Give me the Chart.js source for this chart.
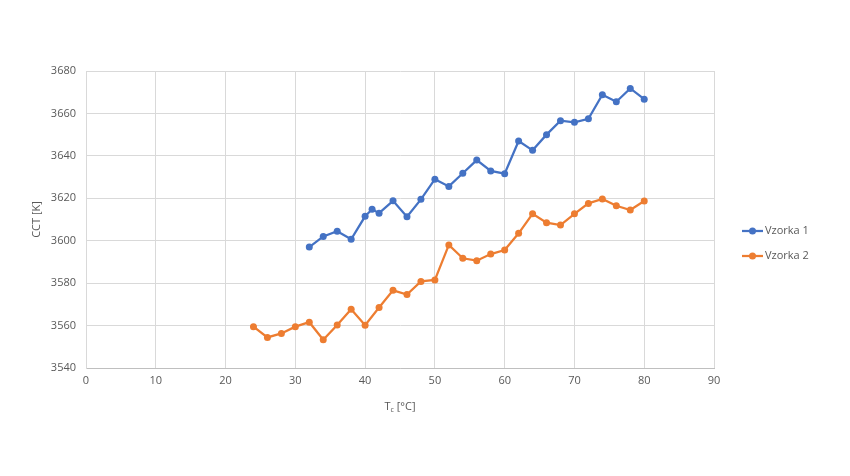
<!DOCTYPE html>
<html>
<head>
<meta charset="utf-8">
<script src="https://cdn.jsdelivr.net/npm/chart.js@4"></script>
<style>
  html, body { margin: 0; padding: 0; background: #fff; }
  #wrap { width: 850px; height: 476px; position: relative; }
</style>
</head>
<body>
<div id="wrap"><canvas id="chart"></canvas></div>
<script>
// data
const xVzorka1 = [32, 34, 36, 38, 40, 41, 42, 44, 46, 48, 50, 52, 54, 56, 58, 60, 62, 64, 66, 68, 70, 72, 74, 76, 78, 80];
const yVzorka1 = [3597, 3602, 3604.5, 3600.7, 3611.5, 3614.8, 3613, 3618.8, 3611.3, 3619.5, 3629, 3625.6, 3631.8, 3638, 3632.9, 3631.6, 3647, 3642.6, 3650, 3656.6, 3655.8, 3657.5, 3668.8, 3665.5, 3671.8, 3666.7];
const xVzorka2 = [24, 26, 28, 30, 32, 34, 36, 38, 40, 42, 44, 46, 48, 50, 52, 54, 56, 58, 60, 62, 64, 66, 68, 70, 72, 74, 76, 78, 80];
const yVzorka2 = [3559.5, 3554.4, 3556.3, 3559.5, 3561.6, 3553.3, 3560.3, 3567.7, 3560.2, 3568.5, 3576.6, 3574.6, 3580.8, 3581.5, 3598, 3591.7, 3590.6, 3593.7, 3595.6, 3603.5, 3612.7, 3608.5, 3607.4, 3612.7, 3617.6, 3619.7, 3616.5, 3614.5, 3618.7];
const seriesNames = ['Vzorka 1', 'Vzorka 2'];
const seriesColors = ['#4472C4', '#ED7D31'];

const textColor = '#595959';
const fontFamily = '"Open Sans", "DejaVu Sans", sans-serif';

function toPoints(xs, ys) {
  return xs.map((x, i) => ({ x: x, y: ys[i] }));
}

// axis titles + legend drawn by hand (subscript in T_c, excel style legend)
const extrasPlugin = {
  id: 'extras',
  afterDraw(chart) {
    const ctx = chart.ctx;
    const area = chart.chartArea;
    ctx.save();
    ctx.fillStyle = textColor;
    ctx.textBaseline = 'middle';

    // y title
    ctx.save();
    ctx.translate(37, (area.top + area.bottom) / 2);
    ctx.rotate(-Math.PI / 2);
    ctx.font = '11px ' + fontFamily;
    ctx.textAlign = 'center';
    ctx.fillText('CCT [K]', 0, 0);
    ctx.restore();

    // x title T_c [°C]
    ctx.font = '11px ' + fontFamily;
    const tW = ctx.measureText('T').width;
    ctx.font = '7px ' + fontFamily;
    const cW = ctx.measureText('c').width;
    ctx.font = '11px ' + fontFamily;
    const restW = ctx.measureText(' [°C]').width;
    const total = tW + cW + restW;
    let tx = (area.left + area.right) / 2 - total / 2;
    const ty = 407;
    ctx.textAlign = 'left';
    ctx.fillText('T', tx, ty);
    ctx.font = '7px ' + fontFamily;
    ctx.fillText('c', tx + tW, ty + 3);
    ctx.font = '11px ' + fontFamily;
    ctx.fillText(' [°C]', tx + tW + cW, ty);

    // legend
    const legendY = [231, 256];
    seriesNames.forEach((name, i) => {
      const y = legendY[i];
      ctx.strokeStyle = seriesColors[i];
      ctx.lineWidth = 2.25;
      ctx.beginPath();
      ctx.moveTo(742, y);
      ctx.lineTo(763, y);
      ctx.stroke();
      ctx.fillStyle = seriesColors[i];
      ctx.beginPath();
      ctx.arc(752.5, y, 3.5, 0, Math.PI * 2);
      ctx.fill();
      ctx.fillStyle = textColor;
      ctx.font = '11px ' + fontFamily;
      ctx.fillText(name, 765, y);
    });
    ctx.restore();
  }
};

const chart = new Chart(document.getElementById('chart'), {
  type: 'scatter',
  data: {
    datasets: [
      {
        label: seriesNames[0],
        data: toPoints(xVzorka1, yVzorka1),
        showLine: true,
        borderColor: seriesColors[0],
        backgroundColor: seriesColors[0],
        borderWidth: 2.25,
        pointRadius: 3.5,
        pointBorderWidth: 0,
        tension: 0
      },
      {
        label: seriesNames[1],
        data: toPoints(xVzorka2, yVzorka2),
        showLine: true,
        borderColor: seriesColors[1],
        backgroundColor: seriesColors[1],
        borderWidth: 2.25,
        pointRadius: 3.5,
        pointBorderWidth: 0,
        tension: 0
      }
    ]
  },
  options: {
    responsive: true,
    maintainAspectRatio: false,
    animation: false,
    layout: { padding: { top: 71, right: 136, bottom: 0, left: 0 } },
    plugins: {
      legend: { display: false },
      tooltip: { enabled: false }
    },
    scales: {
      x: {
        type: 'linear',
        min: 0,
        max: 90,
        ticks: { stepSize: 10, color: textColor, font: { size: 11, family: fontFamily }, padding: 6 },
        grid: { color: '#d9d9d9', drawTicks: false },
        border: { color: '#bfbfbf' },
        afterFit(scale) { scale.height = 108; }
      },
      y: {
        min: 3540,
        max: 3680,
        ticks: {
          stepSize: 20,
          color: textColor,
          font: { size: 11, family: fontFamily },
          padding: 10,
          callback: (v) => String(v)
        },
        grid: { color: '#d9d9d9', drawTicks: false },
        border: { color: '#d9d9d9' },
        afterFit(scale) { scale.width = 86; }
      }
    }
  },
  plugins: [extrasPlugin]
});
</script>
</body>
</html>
